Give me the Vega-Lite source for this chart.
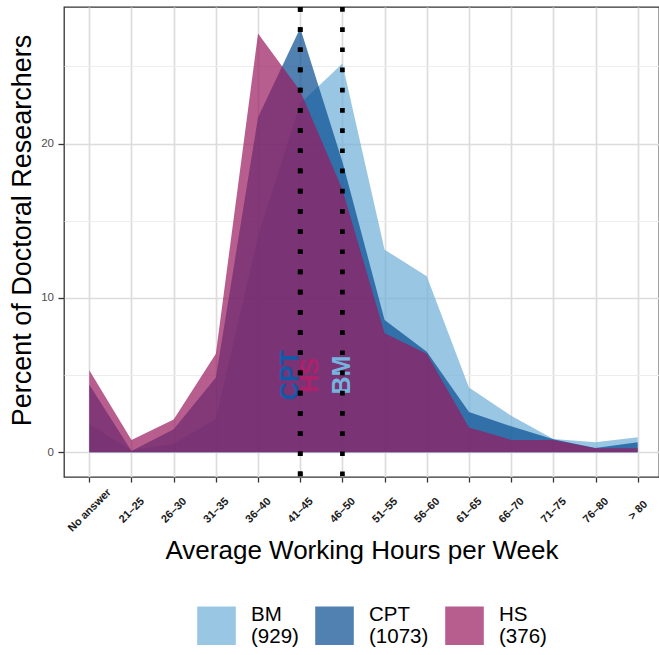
{
  "$schema": "https://vega.github.io/schema/vega-lite/v6.json",
  "width": 595,
  "height": 470,
  "autosize": {"type": "none"},
  "padding": {"left": 64, "top": 7, "right": 0, "bottom": 178},
  "background": "white",
  "config": {
    "font": "Liberation Sans",
    "view": {"stroke": "#333333", "strokeWidth": 1.3}
  },
  "datasets": {
    "pct": [
      {"hours": "No answer", "faculty": "BM", "pct": 1.83},
      {"hours": "21–25", "faculty": "BM", "pct": 0.11},
      {"hours": "26–30", "faculty": "BM", "pct": 0.54},
      {"hours": "31–35", "faculty": "BM", "pct": 2.15},
      {"hours": "36–40", "faculty": "BM", "pct": 13.99},
      {"hours": "41–45", "faculty": "BM", "pct": 22.6},
      {"hours": "46–50", "faculty": "BM", "pct": 25.19},
      {"hours": "51–55", "faculty": "BM", "pct": 13.13},
      {"hours": "56–60", "faculty": "BM", "pct": 11.41},
      {"hours": "61–65", "faculty": "BM", "pct": 4.2},
      {"hours": "66–70", "faculty": "BM", "pct": 2.37},
      {"hours": "71–75", "faculty": "BM", "pct": 0.86},
      {"hours": "76–80", "faculty": "BM", "pct": 0.65},
      {"hours": "> 80", "faculty": "BM", "pct": 0.97},
      {"hours": "No answer", "faculty": "CPT", "pct": 4.38},
      {"hours": "21–25", "faculty": "CPT", "pct": 0.09},
      {"hours": "26–30", "faculty": "CPT", "pct": 1.49},
      {"hours": "31–35", "faculty": "CPT", "pct": 4.85},
      {"hours": "36–40", "faculty": "CPT", "pct": 21.71},
      {"hours": "41–45", "faculty": "CPT", "pct": 27.49},
      {"hours": "46–50", "faculty": "CPT", "pct": 18.83},
      {"hours": "51–55", "faculty": "CPT", "pct": 8.57},
      {"hours": "56–60", "faculty": "CPT", "pct": 6.52},
      {"hours": "61–65", "faculty": "CPT", "pct": 2.61},
      {"hours": "66–70", "faculty": "CPT", "pct": 1.68},
      {"hours": "71–75", "faculty": "CPT", "pct": 0.84},
      {"hours": "76–80", "faculty": "CPT", "pct": 0.28},
      {"hours": "> 80", "faculty": "CPT", "pct": 0.65},
      {"hours": "No answer", "faculty": "HS", "pct": 5.32},
      {"hours": "21–25", "faculty": "HS", "pct": 0.8},
      {"hours": "26–30", "faculty": "HS", "pct": 2.13},
      {"hours": "31–35", "faculty": "HS", "pct": 6.38},
      {"hours": "36–40", "faculty": "HS", "pct": 27.13},
      {"hours": "41–45", "faculty": "HS", "pct": 23.4},
      {"hours": "46–50", "faculty": "HS", "pct": 17.02},
      {"hours": "51–55", "faculty": "HS", "pct": 7.71},
      {"hours": "56–60", "faculty": "HS", "pct": 6.38},
      {"hours": "61–65", "faculty": "HS", "pct": 1.6},
      {"hours": "66–70", "faculty": "HS", "pct": 0.8},
      {"hours": "71–75", "faculty": "HS", "pct": 0.8},
      {"hours": "76–80", "faculty": "HS", "pct": 0.27},
      {"hours": "> 80", "faculty": "HS", "pct": 0.27}
    ],
    "medians": [
      {"faculty": "CPT", "median": "41–45"},
      {"faculty": "HS", "median": "41–45"},
      {"faculty": "BM", "median": "46–50"}
    ]
  },
  "resolve": {"axis": {"y": "independent"}, "scale": {"color": "independent"}},
  "layer": [
    {
      "data": {"name": "pct"},
      "mark": {"type": "area", "opacity": 0.7, "interpolate": "linear"},
      "encoding": {
        "x": {
          "field": "hours", "type": "ordinal",
          "sort": ["No answer","21–25","26–30","31–35","36–40","41–45","46–50","51–55","56–60","61–65","66–70","71–75","76–80","> 80"],
          "title": "Average Working Hours per Week",
          "scale": {"type": "point", "padding": 0.5524, "align": 0.543,
            "domain": ["No answer","21–25","26–30","31–35","36–40","41–45","46–50","51–55","56–60","61–65","66–70","71–75","76–80","> 80"]},
          "axis": {
            "titleFontSize": 26, "titleFontWeight": "normal", "titleColor": "#000000",
            "titleY": 81, "titleBaseline": "alphabetic",
            "labelAngle": -45, "labelAlign": "center", "labelBaseline": "middle",
            "labelFontSize": 11, "labelFontWeight": "bold", "labelColor": "#1A1A1A",
            "labelPadding": 28, "labelOverlap": false,
            "tickSize": 5, "tickColor": "#333333", "tickWidth": 1.3,
            "domain": false, "grid": true, "gridColor": "#DCDCDC", "gridWidth": 1.7
          }
        },
        "y": {
          "field": "pct", "type": "quantitative", "stack": null,
          "title": "Percent of Doctoral Researchers",
          "scale": {"domain": [-1.6, 28.85], "nice": false, "zero": false},
          "axis": {
            "values": [0, 10, 20],
            "titleFontSize": 27, "titleFontWeight": "normal", "titleColor": "#000000",
            "titleX": -34, "titleY": 223, "titleBaseline": "alphabetic",
            "labelFontSize": 11.5, "labelColor": "#4D4D4D", "labelPadding": 4.5,
            "tickSize": 6, "tickColor": "#333333", "tickWidth": 1.3,
            "domain": false, "grid": true, "gridColor": "#DCDCDC", "gridWidth": 1.7
          }
        },
        "y2": {"datum": 0},
        "color": {
          "field": "faculty", "type": "nominal",
          "scale": {"domain": ["BM", "CPT", "HS"], "range": ["#6DAED7", "#064B90", "#98195E"]},
          "legend": {
            "orient": "none", "legendX": 133, "legendY": 599,
            "direction": "horizontal", "columns": 3, "title": null,
            "symbolType": "square", "symbolSize": 1490, "symbolOpacity": 0.7, "symbolStrokeWidth": 0,
            "labelFontSize": 20.5, "labelColor": "#000000", "labelOffset": 15, "labelBaseline": "line-bottom",
            "columnPadding": 16, "labelLimit": 300, "padding": 0,
            "labelExpr": "datum.label == 'BM' ? ['BM', '(929)'] : datum.label == 'CPT' ? ['CPT', '(1073)'] : ['HS', '(376)']"
          }
        }
      }
    },
    {
      "data": {"name": "medians"},
      "transform": [{"filter": "datum.faculty == 'CPT'"}],
      "mark": {"type": "text", "angle": 270, "align": "center", "baseline": "middle", "fontSize": 25, "fontWeight": "bold", "dy": -10},
      "encoding": {
        "x": {"field": "median", "type": "ordinal", "title": "Average Working Hours per Week",
          "sort": ["No answer","21–25","26–30","31–35","36–40","41–45","46–50","51–55","56–60","61–65","66–70","71–75","76–80","> 80"]},
        "y": {"datum": 5, "type": "quantitative",
          "axis": {"orient": "right", "values": [5, 15, 25], "grid": true, "gridColor": "#EDEDED", "gridWidth": 1.1,
            "labels": false, "ticks": false, "domain": false, "title": null}},
        "text": {"field": "faculty"},
        "color": {"field": "faculty", "type": "nominal", "legend": null,
          "scale": {"domain": ["BM", "CPT", "HS"], "range": ["#74B4DE", "#1259A8", "#B0206A"]}}
      }
    },
    {
      "data": {"name": "medians"},
      "transform": [{"filter": "datum.faculty == 'HS'"}],
      "mark": {"type": "text", "angle": 270, "align": "center", "baseline": "middle", "fontSize": 25, "fontWeight": "bold", "dy": 10},
      "encoding": {
        "x": {"field": "median", "type": "ordinal", "title": "Average Working Hours per Week",
          "sort": ["No answer","21–25","26–30","31–35","36–40","41–45","46–50","51–55","56–60","61–65","66–70","71–75","76–80","> 80"]},
        "y": {"datum": 5, "type": "quantitative", "axis": null},
        "text": {"field": "faculty"},
        "color": {"field": "faculty", "type": "nominal", "legend": null,
          "scale": {"domain": ["BM", "CPT", "HS"], "range": ["#74B4DE", "#1259A8", "#B0206A"]}}
      }
    },
    {
      "data": {"name": "medians"},
      "transform": [{"filter": "datum.faculty == 'BM'"}],
      "mark": {"type": "text", "angle": 270, "align": "center", "baseline": "middle", "fontSize": 25, "fontWeight": "bold", "dy": 0},
      "encoding": {
        "x": {"field": "median", "type": "ordinal", "title": "Average Working Hours per Week",
          "sort": ["No answer","21–25","26–30","31–35","36–40","41–45","46–50","51–55","56–60","61–65","66–70","71–75","76–80","> 80"]},
        "y": {"datum": 5, "type": "quantitative", "axis": null},
        "text": {"field": "faculty"},
        "color": {"field": "faculty", "type": "nominal", "legend": null,
          "scale": {"domain": ["BM", "CPT", "HS"], "range": ["#74B4DE", "#1259A8", "#B0206A"]}}
      }
    },
    {
      "data": {"name": "medians"},
      "mark": {"type": "rule", "color": "#000000", "strokeWidth": 4.7, "strokeDash": [4.7, 15.5], "strokeCap": "butt"},
      "encoding": {
        "x": {"field": "median", "type": "ordinal", "title": "Average Working Hours per Week",
          "sort": ["No answer","21–25","26–30","31–35","36–40","41–45","46–50","51–55","56–60","61–65","66–70","71–75","76–80","> 80"]}
      }
    }
  ]
}
